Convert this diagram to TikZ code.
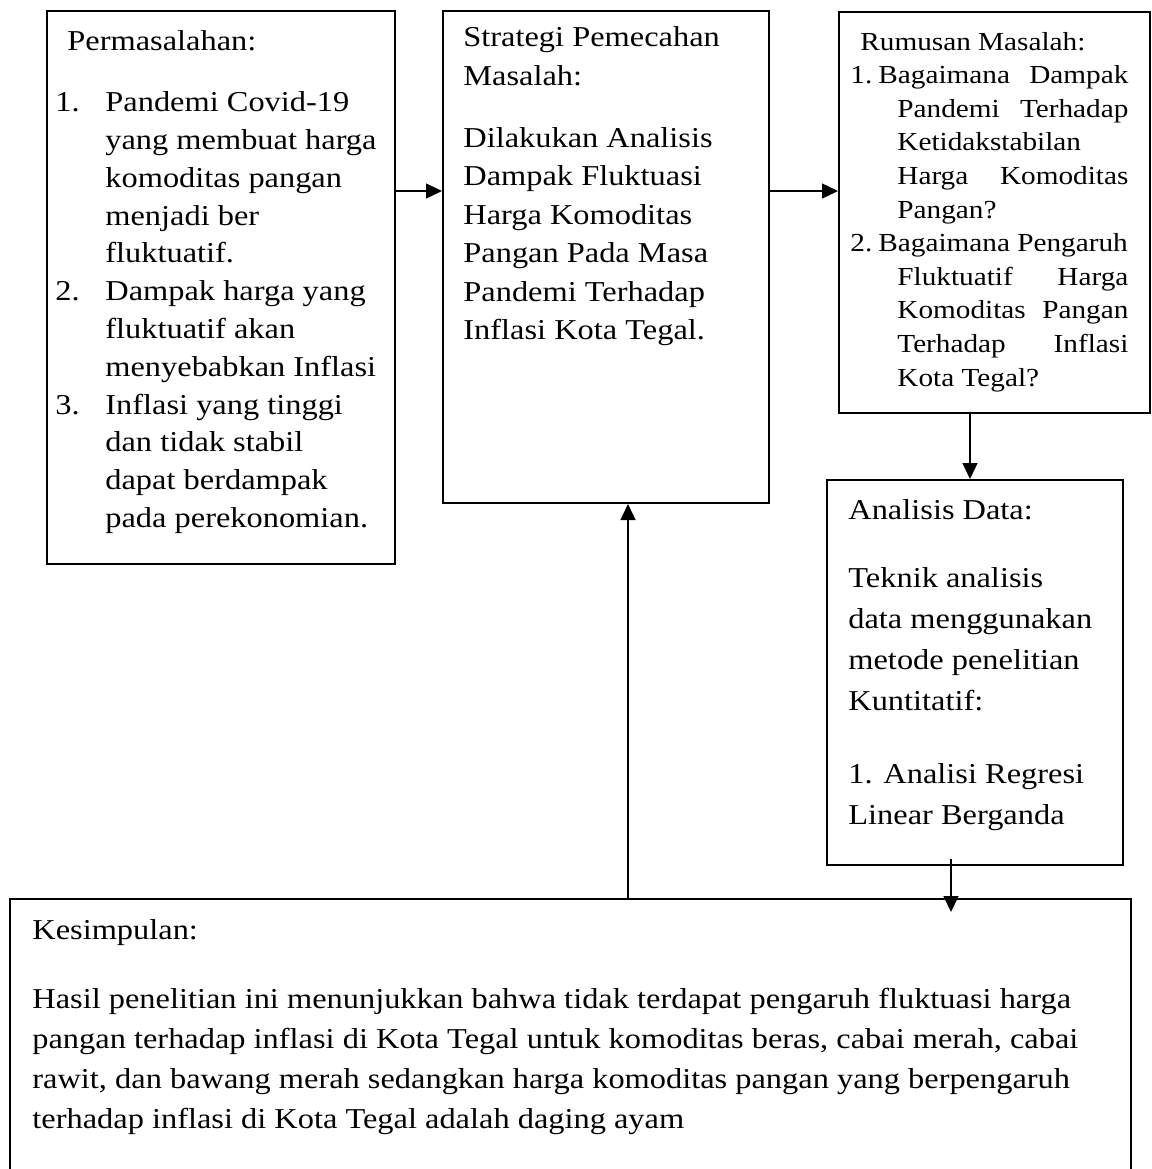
\documentclass[tikz,border=0pt]{standalone}
\usepackage{fontspec}
\setmainfont{Liberation Serif}[FakeStretch=1.125]
\usetikzlibrary{arrows.meta,calc}
\begin{document}
\begin{tikzpicture}[x=0.5pt,y=-0.5pt,
  box/.style={draw, line width=1pt, inner sep=0pt, anchor=north west},
  txt/.style={inner sep=0pt, anchor=base west, font=\fontsize{14.4pt}{16pt}\selectfont},
  stxt/.style={inner sep=0pt, anchor=base west, font=\fontsize{13pt}{15pt}\selectfont},
  arr/.style={line width=0.7pt, -{Triangle[length=8pt,width=7.5pt]}}]
\fill[white] (0,0) rectangle (1152,1169);
\useasboundingbox (0,0) rectangle (1152,1169);
\clip (0,0) rectangle (1152,1169);

% boxes
\node[box, minimum width=174pt, minimum height=276.5pt] (b1) at (46,10) {};
\node[box, minimum width=163pt, minimum height=246pt] (b2) at (442,10) {};
\node[box, minimum width=155.5pt, minimum height=200.5pt] (b3) at (838,11) {};
\node[box, minimum width=148pt, minimum height=192.5pt] (b4) at (826,479) {};
\node[inner sep=0pt, anchor=north west, minimum width=560pt, minimum height=140pt] (b5) at (10,899) {};
\draw[line width=1pt] (b5.south west) |- (b5.north east) -- (b5.south east);

% connectors
\coordinate (ya) at (0,191);
\coordinate (xa) at (970,0);
\coordinate (xb) at (951,0);
\coordinate (xc) at (628,0);
\draw[arr] (b1.east |- ya) -- (b2.west |- ya);
\draw[arr] (b2.east |- ya) -- (b3.west |- ya);
\draw[arr] (b3.south -| xa) -- (b4.north -| xa);
\draw[arr] ($(b4.south -| xb)+(0,-7)$) -- ($(b5.north -| xb)+(0,13)$);
\draw[arr] (b5.north -| xc) -- (b2.south -| xc);

% box 1
\node[txt] (p0) at (67,50.7) {Permasalahan:};
\node[txt] (n1) at (55,111.7) {1.};
\node[txt] (n2) at (55,300.7) {2.};
\node[txt] (n3) at (55,414.1) {3.};
\foreach \s [count=\i from 0] in {Pandemi Covid-19, yang membuat harga, komoditas pangan, menjadi ber, fluktuatif., Dampak harga yang, fluktuatif akan, menyebabkan Inflasi, Inflasi yang tinggi, dan tidak stabil, dapat berdampak, pada perekonomian.}
  \node[txt] (q\i) at (105,{111.7+37.8*\i}) {\s};

% box 2
\foreach \s/\y [count=\i] in {Strategi Pemecahan/46, Masalah:/85, Dilakukan Analisis/147, Dampak Fluktuasi/185.5, Harga Komoditas/224, Pangan Pada Masa/262.5, Pandemi Terhadap/301, Inflasi Kota Tegal./339.5}
  \node[txt] (s\i) at (463,\y) {\s};

% box 3
\node[stxt] (r0) at (860,50) {Rumusan Masalah:};
\node[stxt] (rn1) at (850,83.6) {1.};
\node[stxt] (r1) at (878,83.6) {\makebox[125pt][s]{Bagaimana Dampak}};
\node[stxt] (r2) at (897,117.2) {\makebox[115.5pt][s]{Pandemi Terhadap}};
\node[stxt] (r3) at (897,150.8) {Ketidakstabilan};
\node[stxt] (r4) at (897,184.4) {\makebox[115.5pt][s]{Harga Komoditas}};
\node[stxt] (r5) at (897,218) {Pangan?};
\node[stxt] (rn2) at (850,251.6) {2.};
\node[stxt] (r6) at (878,251.6) {Bagaimana Pengaruh};
\node[stxt] (r7) at (897,285.2) {\makebox[115.5pt][s]{Fluktuatif Harga}};
\node[stxt] (r8) at (897,318.8) {\makebox[115.5pt][s]{Komoditas Pangan}};
\node[stxt] (r9) at (897,352.4) {\makebox[115.5pt][s]{Terhadap Inflasi}};
\node[stxt] (r10) at (897,386) {Kota Tegal?};

% box 4
\foreach \s/\y [count=\i] in {Analisis Data:/519, Teknik analisis/587, data menggunakan/628, metode penelitian/669, Kuntitatif:/710, 1. Analisi Regresi/783, Linear Berganda/824}
  \node[txt] (d\i) at (848,\y) {\s};

% box 5
\node[txt] (k0) at (32,939) {Kesimpulan:};
\node[txt] (k1) at (32,1008) {Hasil penelitian ini menunjukkan bahwa tidak terdapat pengaruh fluktuasi harga};
\node[txt] (k2) at (32,1048) {pangan terhadap inflasi di Kota Tegal untuk komoditas beras, cabai merah, cabai};
\node[txt] (k3) at (32,1088) {rawit, dan bawang merah sedangkan harga komoditas pangan yang berpengaruh};
\node[txt] (k4) at (32,1128) {terhadap inflasi di Kota Tegal adalah daging ayam};
\end{tikzpicture}
\end{document}
